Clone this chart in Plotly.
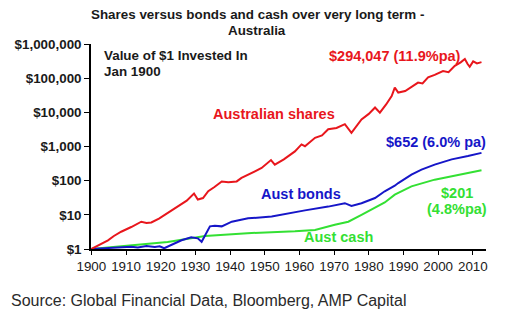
import plotly.graph_objects as go

# ---- data ----
share_years = [1900, 1902.5, 1904.8, 1906.5, 1908.6, 1911.5, 1914.4, 1915.9, 1917.3, 1919.5, 1921.2, 1923.0,
               1925, 1927.5, 1929.6, 1930.7, 1932.2, 1933.7, 1935.5, 1937.6, 1939.5, 1941.9, 1943.3, 1946.0,
               1949.1, 1951.8, 1952.9, 1955.5, 1958.7, 1960.6, 1961.6, 1964.5, 1966.5, 1968.3, 1970.7, 1973.1,
               1975, 1977.9, 1980.0, 1981.8, 1983.2, 1985.0, 1986.6, 1987.5, 1988.5, 1990.5, 1992.3, 1994.2,
               1995.5, 1997.1, 1999.0, 2001.4, 2003.0, 2004.8, 2006.5, 2007.7, 2008.5, 2009.1, 2010.1, 2011.2, 2012.5]
share_vals = [1.0, 1.35, 1.8, 2.4, 3.2, 4.4, 6.3, 5.8, 6.0, 7.8, 10, 13,
              17, 26, 42, 28, 31, 49, 65, 95, 90, 95, 120, 160,
              235, 400, 295, 420, 720, 1150, 1020, 1800, 2100, 3200, 3500, 4500,
              2500, 6200, 9000, 13800, 9800, 17000, 30000, 53000, 38000, 42000, 54000, 74000,
              70000, 105000, 125000, 162000, 150000, 230000, 290000, 365000, 260000, 215000, 310000, 270000, 294047]

bond_years = [1900, 1904.8, 1908.6, 1911.5, 1913.4, 1915.9, 1918.3, 1919.7, 1921, 1923.1, 1926, 1928.8,
              1930.7, 1931.8, 1932.8, 1934.2, 1935.6, 1937.6, 1940.5, 1945.2, 1952, 1956.8, 1961.6, 1968.3,
              1973.1, 1975, 1977.9, 1981.8, 1984.6, 1987.5, 1988.5, 1992.3, 1995.2, 1999, 2003.9, 2008.6, 2012.5]
bond_vals = [1.0, 1.05, 1.12, 1.17, 1.1, 1.23, 1.15, 1.2, 1.05, 1.32, 1.8, 2.2,
             2.05, 1.62, 2.6, 4.6, 4.8, 4.6, 6.3, 7.9, 8.9, 11.2, 13.5, 17.4,
             21.9, 18.2, 21.9, 31, 49, 71, 85, 150, 210, 295, 420, 525, 652]

cash_years = [1900, 1910, 1922, 1932.8, 1945, 1958.7, 1964.5, 1970.2, 1974.1, 1977.9, 1981.8, 1984.6,
              1987.5, 1992.3, 1999, 2005.8, 2012.5]
cash_vals = [1.0, 1.25, 1.6, 2.4, 2.9, 3.3, 3.6, 5.1, 6.3, 10, 16, 23,
             39, 68, 107, 150, 201]

y_tick_vals = [1, 10, 100, 1000, 10000, 100000, 1000000]
y_tick_text = ["$1", "$10", "$100", "$1,000", "$10,000", "$100,000", "$1,000,000"]
x_tick_vals = list(range(1900, 2011, 10))

RED = "#e8161c"
BLUE = "#1616c8"
GREEN = "#33e033"
DARK = "#1a1a1a"

fig = go.Figure()
fig.add_trace(go.Scatter(x=cash_years, y=cash_vals, mode="lines", line=dict(color=GREEN, width=2)))
fig.add_trace(go.Scatter(x=bond_years, y=bond_vals, mode="lines", line=dict(color=BLUE, width=2)))
fig.add_trace(go.Scatter(x=share_years, y=share_vals, mode="lines", line=dict(color=RED, width=2)))

W, H = 529, 318
L, R, T, B = 91, 486, 44.3, 249


def px(x):
    return (x - L) / (R - L)


def py(y):
    return (B - y) / (B - T)


def ann(text, x, y, color, size, xanchor="center"):
    fig.add_annotation(text=text, x=px(x), y=py(y), xref="paper", yref="paper",
                       xanchor=xanchor, yanchor="middle", showarrow=False,
                       font=dict(family="Liberation Sans, Arial", size=size, color=color))


ann("<b>Shares versus bonds and cash over very long term -</b>", 257, 15, DARK, 13.4)
ann("<b>Australia</b>", 257, 31, DARK, 13.4)
ann("<b>Value of $1 Invested In</b>", 102, 56, DARK, 13.4, "left")
ann("<b>Jan 1900</b>", 102, 72, DARK, 13.4, "left")
ann("<b>$294,047 (11.9%pa)</b>", 395, 56, RED, 14.5)
ann("<b>Australian shares</b>", 273.5, 114, RED, 14.5)
ann("<b>$652 (6.0% pa)</b>", 436, 142, BLUE, 14.5)
ann("<b>Aust bonds</b>", 301, 194, BLUE, 14.5)
ann("<b>$201</b>", 457, 193, GREEN, 14.5)
ann("<b>(4.8%pa)</b>", 457, 209, GREEN, 14.5)
ann("<b>Aust cash</b>", 338.5, 237, GREEN, 14.5)
ann("Source: Global Financial Data, Bloomberg, AMP Capital", 9, 300, "#2a2a2a", 16, "left")

fig.update_layout(
    width=W, height=H,
    margin=dict(l=L, r=W - R, t=T, b=H - B, pad=0),
    paper_bgcolor="white", plot_bgcolor="white",
    showlegend=False,
    font=dict(family="Liberation Sans, Arial", color=DARK),
)
fig.update_xaxes(range=[1899.9, 2013.8], tickvals=x_tick_vals, ticks="outside", ticklen=4,
                 tickcolor="black", showline=True, linecolor="black", linewidth=1.5,
                 showgrid=False, zeroline=False,
                 tickfont=dict(family="Liberation Sans, Arial", size=13.4, color=DARK),
                 tickprefix="<b>", ticksuffix="</b>")
fig.update_yaxes(type="log", range=[0, 6], tickvals=y_tick_vals,
                 ticktext=["<b>" + t + "</b>" for t in y_tick_text],
                 ticks="outside", ticklen=5, tickcolor="black", showline=True, linecolor="black",
                 linewidth=1.5, showgrid=False, zeroline=False,
                 tickfont=dict(family="Liberation Sans, Arial", size=13.4, color=DARK))

fig.write_html("out.html")
